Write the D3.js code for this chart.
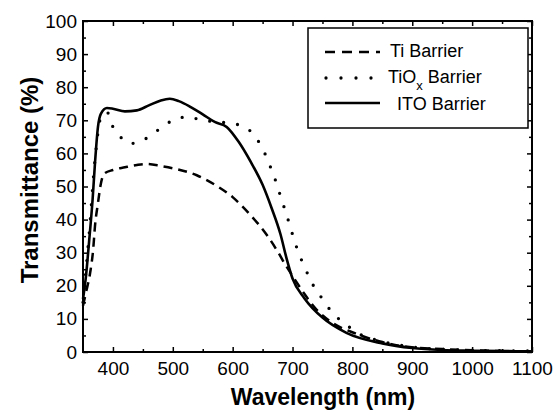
<!DOCTYPE html>
<html><head><meta charset="utf-8">
<script src="https://cdn.jsdelivr.net/npm/d3@7"></script>
<style>body{margin:0;background:#fff}svg{display:block}text{font-family:"Liberation Sans",Arial,sans-serif;fill:#000}</style>
</head><body>
<svg id="c" width="560" height="411"></svg>
<script>
const xTicks = [400,500,600,700,800,900,1000,1100];
const yTicks = [0,10,20,30,40,50,60,70,80,90,100];
const seriesNames = ["Ti Barrier","TiO", "ITO Barrier"];

const tiWl  = [350,355,362,367,370,375,380,385,400,420,440,456,480,500,540,575,600,615,630,645,660,675,690,700,720,740,765,805,850,885,950,1000,1100];
const tiT   = [14,18,24,31,38,45,51,53.8,55,55.8,56.5,56.8,56.2,55.5,53.4,50,46.8,44.2,41.3,38.2,34.6,30.4,25.8,23,17.5,12.8,9,5.6,3,1.7,0.9,0.5,0.2];

const tioxWl = [350,360,370,380,390,400,410,430,450,475,500,525,550,575,600,620,640,655,665,675,680,690,700,710,720,730,750,765,790,810,850,900,950,1000,1100];
const tioxT  = [15,35,58,71,72.5,68,65.5,63,64,67,70,71,70,69.5,69,68,64.5,59.5,55,50,47,41.5,35.5,30,25.8,21.7,16,12.2,8.2,5.6,3.2,1.5,0.8,0.5,0.3];

const itoWl = [350,355,360,366,370,375,380,390,400,420,440,460,480,495,510,530,550,570,590,610,630,650,665,680,690,700,720,750,790,850,900,950,1000,1100];
const itoT  = [16,23,33,46,57,68,72,73.7,73.5,72.7,73,74.5,76,76.5,75.8,74,71.8,69.5,68,63.5,57.5,50.5,43.5,35.5,28.3,22.2,16.2,10.4,5.8,2.6,1.2,0.6,0.4,0.2];

const svg = d3.select("#c");
const L=83, R=532, T=21, B=352;
const x = d3.scaleLinear().domain([350,1100]).range([L,R]);
const y = d3.scaleLinear().domain([0,100]).range([B,T]);

// axes (ticks inward)
svg.append("g").attr("transform",`translate(0,${B})`)
  .call(d3.axisBottom(x).tickValues(xTicks).tickSize(-5).tickPadding(10).tickFormat(d3.format("d")));
svg.append("g").attr("transform",`translate(${L},0)`)
  .call(d3.axisLeft(y).tickValues(yTicks).tickSize(-5).tickPadding(6).tickFormat(d3.format("d")));
svg.append("g").attr("transform",`translate(0,${T})`)
  .call(d3.axisTop(x).tickValues(xTicks).tickSize(-5).tickFormat(""));
svg.append("g").attr("transform",`translate(${R},0)`)
  .call(d3.axisRight(y).tickValues(yTicks).tickSize(-5).tickFormat(""));
// minor ticks
const xMinor = d3.range(450,1100,100);
const yMinor = d3.range(5,100,10);
svg.append("g").attr("transform",`translate(0,${B})`).call(d3.axisBottom(x).tickValues(xMinor).tickSize(-3).tickFormat(""));
svg.append("g").attr("transform",`translate(${L},0)`).call(d3.axisLeft(y).tickValues(yMinor).tickSize(-3).tickFormat(""));
svg.append("g").attr("transform",`translate(0,${T})`).call(d3.axisTop(x).tickValues(xMinor).tickSize(-3).tickFormat(""));
svg.append("g").attr("transform",`translate(${R},0)`).call(d3.axisRight(y).tickValues(yMinor).tickSize(-3).tickFormat(""));
svg.selectAll(".domain").remove();
svg.selectAll(".tick line").attr("stroke","#000").attr("stroke-width",1.5);
svg.selectAll(".tick text").attr("font-size",19).style("font-family","Liberation Sans, Arial, sans-serif").attr("fill","#000");
svg.append("rect").attr("x",L).attr("y",T).attr("width",R-L).attr("height",B-T)
  .attr("fill","none").attr("stroke","#000").attr("stroke-width",2);

const line = d3.line().x(d=>x(d[0])).y(d=>y(d[1])).curve(d3.curveMonotoneX);
const g = svg.append("g");
g.append("path").datum(d3.zip(tiWl,tiT)).attr("d",line).attr("fill","none")
  .attr("stroke","#000").attr("stroke-width",2.5).attr("stroke-dasharray","9,6");
g.append("path").datum(d3.zip(tioxWl,tioxT)).attr("d",line).attr("fill","none")
  .attr("stroke","#000").attr("stroke-width",3.3).attr("stroke-linecap","round").attr("stroke-dasharray","0,14");
g.append("path").datum(d3.zip(itoWl,itoT)).attr("d",line).attr("fill","none")
  .attr("stroke","#000").attr("stroke-width",2.6);

// legend
const lg = svg.append("g");
lg.append("rect").attr("x",308).attr("y",28).attr("width",220).attr("height",100)
  .attr("fill","#fff").attr("stroke","#000").attr("stroke-width",1.5);
const ly = [52,78,103];
lg.append("line").attr("x1",325).attr("x2",380).attr("y1",ly[0]).attr("y2",ly[0])
  .attr("stroke","#000").attr("stroke-width",2.5).attr("stroke-dasharray","10,7");
lg.append("line").attr("x1",326).attr("x2",380).attr("y1",ly[1]).attr("y2",ly[1])
  .attr("stroke","#000").attr("stroke-width",3.3).attr("stroke-linecap","round").attr("stroke-dasharray","0,15");
lg.append("line").attr("x1",325).attr("x2",380).attr("y1",ly[2]).attr("y2",ly[2])
  .attr("stroke","#000").attr("stroke-width",2.6);
lg.append("text").attr("x",390).attr("y",57).attr("font-size",18).text("Ti Barrier");
const t2 = lg.append("text").attr("x",388).attr("y",83).attr("font-size",18);
t2.append("tspan").text("TiO");
t2.append("tspan").attr("font-size",13).attr("dy",7).text("x");
t2.append("tspan").attr("dy",-7).text(" Barrier");
lg.append("text").attr("x",397).attr("y",110).attr("font-size",18).text("ITO Barrier");

// axis titles
svg.append("text").attr("x",323).attr("y",405).attr("text-anchor","middle")
  .attr("font-size",23).attr("font-weight","bold").text("Wavelength (nm)");
svg.append("text").attr("transform","translate(38,180) rotate(-90)").attr("text-anchor","middle")
  .attr("font-size",24).attr("font-weight","bold").text("Transmittance (%)");
</script>
</body></html>
